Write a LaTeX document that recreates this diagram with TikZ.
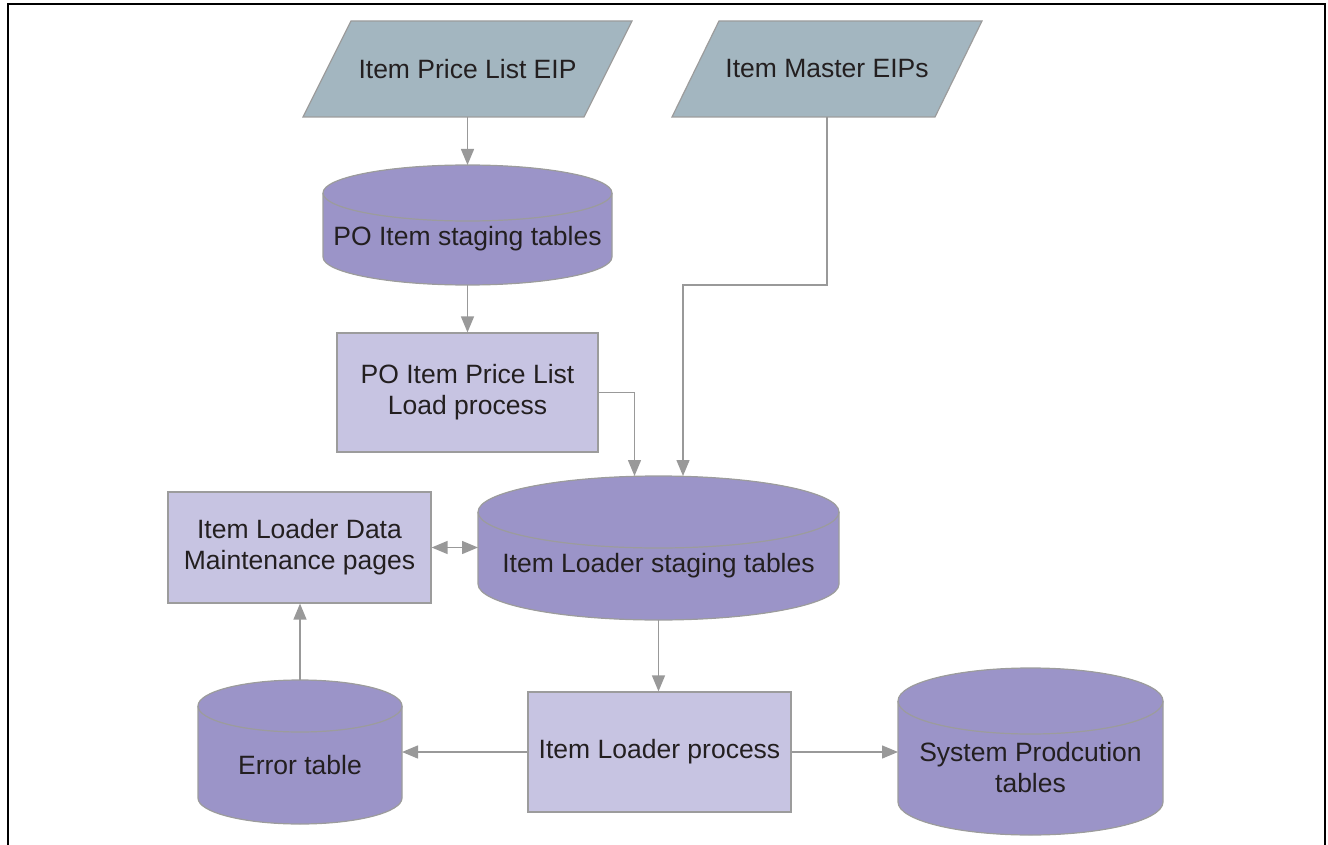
\documentclass[tikz,border=0pt]{standalone}
\usepackage{fontspec}
\setmainfont{Liberation Sans}
\usetikzlibrary{arrows.meta,calc}
\definecolor{paraFill}{HTML}{A3B6C0}
\definecolor{cylFill}{HTML}{9B94C8}
\definecolor{boxFill}{HTML}{C7C4E2}
\definecolor{edgeGray}{HTML}{9C9C9C}
\definecolor{arrGray}{HTML}{999999}
\definecolor{txt}{HTML}{231F20}
\tikzset{
  lbl/.style={font=\fontsize{26.5}{31}\selectfont, text=txt, align=center, inner sep=0pt},
  parashape/.style={fill=paraFill, draw=edgeGray, line width=1.2pt, line join=miter},
  procbox/.style={lbl, rectangle, fill=boxFill, draw=edgeGray, line width=1.2pt},
  cylbody/.style={fill=cylFill, draw=edgeGray, line width=1.2pt},
  cylrim/.style={draw=edgeGray, line width=1.2pt},
  anchorbox/.style={inner sep=0pt, outer sep=0pt, rectangle},
  arr/.style={draw=arrGray, line width=1.4pt, -{Triangle[length=16pt,width=13pt]}},
  darr/.style={draw=arrGray, line width=1.4pt, {Triangle[length=16pt,width=13pt]}-{Triangle[length=16pt,width=13pt]}},
  frame/.style={draw=black, line width=2.4pt, line cap=rect}
}
% #1 name, #2 x1, #3 x2, #4 ytop, #5 ybot, #6 ry
\newcommand{\dbcyl}[6]{%
  \path[cylbody] (#2,{#4+#6}) -- (#2,{#5-#6})
     arc[start angle=180,end angle=360,x radius={((#3)-(#2))/2*1pt},y radius=#6pt]
     -- (#3,{#4+#6})
     arc[start angle=0,end angle=180,x radius={((#3)-(#2))/2*1pt},y radius=#6pt] -- cycle;
  \draw[cylrim] (#2,{#4+#6})
     arc[start angle=180,end angle=360,x radius={((#3)-(#2))/2*1pt},y radius=#6pt];
  \node[anchorbox, minimum width={((#3)-(#2))*1pt}, minimum height={((#5)-(#4))*1pt}]
     (#1) at ({((#2)+(#3))/2},{((#4)+(#5))/2}) {};
}
\begin{document}
\begin{tikzpicture}[x=1pt,y=-1pt]
\useasboundingbox (0,0) rectangle (1328,845);
% frame
\draw[frame] (8,850) -- (8,4) -- (1325,4) -- (1325,850);

% parallelograms
\path[parashape] (303,117) -- (351,21) -- (632,21) -- (584,117) -- cycle;
\node[lbl, anchorbox, minimum height=96pt] (p1) at (467.5,69) {Item Price List EIP};
\path[parashape] (672,117) -- (719,21) -- (982,21) -- (935,117) -- cycle;
\node[lbl, anchorbox, minimum height=96pt] (p2) at (827,69) {Item Master EIPs};

% cylinders
\dbcyl{c1}{323}{612}{165}{285}{28}
\node[lbl] (c1t) at (467.5,239) {PO Item staging tables};
\dbcyl{c2}{478}{839}{476}{620}{36}
\node[lbl] (c2t) at (658.5,566) {Item Loader staging tables};
\dbcyl{ec}{198}{402}{680}{824}{26}
\node[lbl] (ect) at (300,765) {Error table};
\dbcyl{sc}{898}{1163}{668}{835}{33}
\node[lbl] (sct) at (1030.5,768) {System Prodcution\\tables};

% process boxes
\node[procbox, minimum width=261pt, minimum height=119pt] (b1) at (467.5,392.5) {PO Item Price List\\Load process};
\node[procbox, minimum width=263pt, minimum height=111pt] (b2) at (299.5,547.5) {Item Loader Data\\Maintenance pages};
\node[procbox, minimum width=263pt, minimum height=120pt] (b3) at (659.5,752) {Item Loader process};

% connectors
\draw[arr] (p1.south) -- (c1.north);
\draw[arr] (c1.south) -- (b1.north);
\draw[arr] (b1.east) -| ([xshift=-24pt]c2.north);
\draw[arr] (p2.south) -- ++(0,168) -| ([xshift=24.5pt]c2.north);
\draw[darr] (b2.east) -- (b2.east -| c2.west);
\draw[arr] (c2.south) -- (c2.south |- b3.north);
\draw[arr] (b3.west) -- (b3.west -| ec.east);
\draw[arr] (b3.east) -- (b3.east -| sc.west);
\draw[arr] (ec.north) -- (ec.north |- b2.south);
\end{tikzpicture}
\end{document}
